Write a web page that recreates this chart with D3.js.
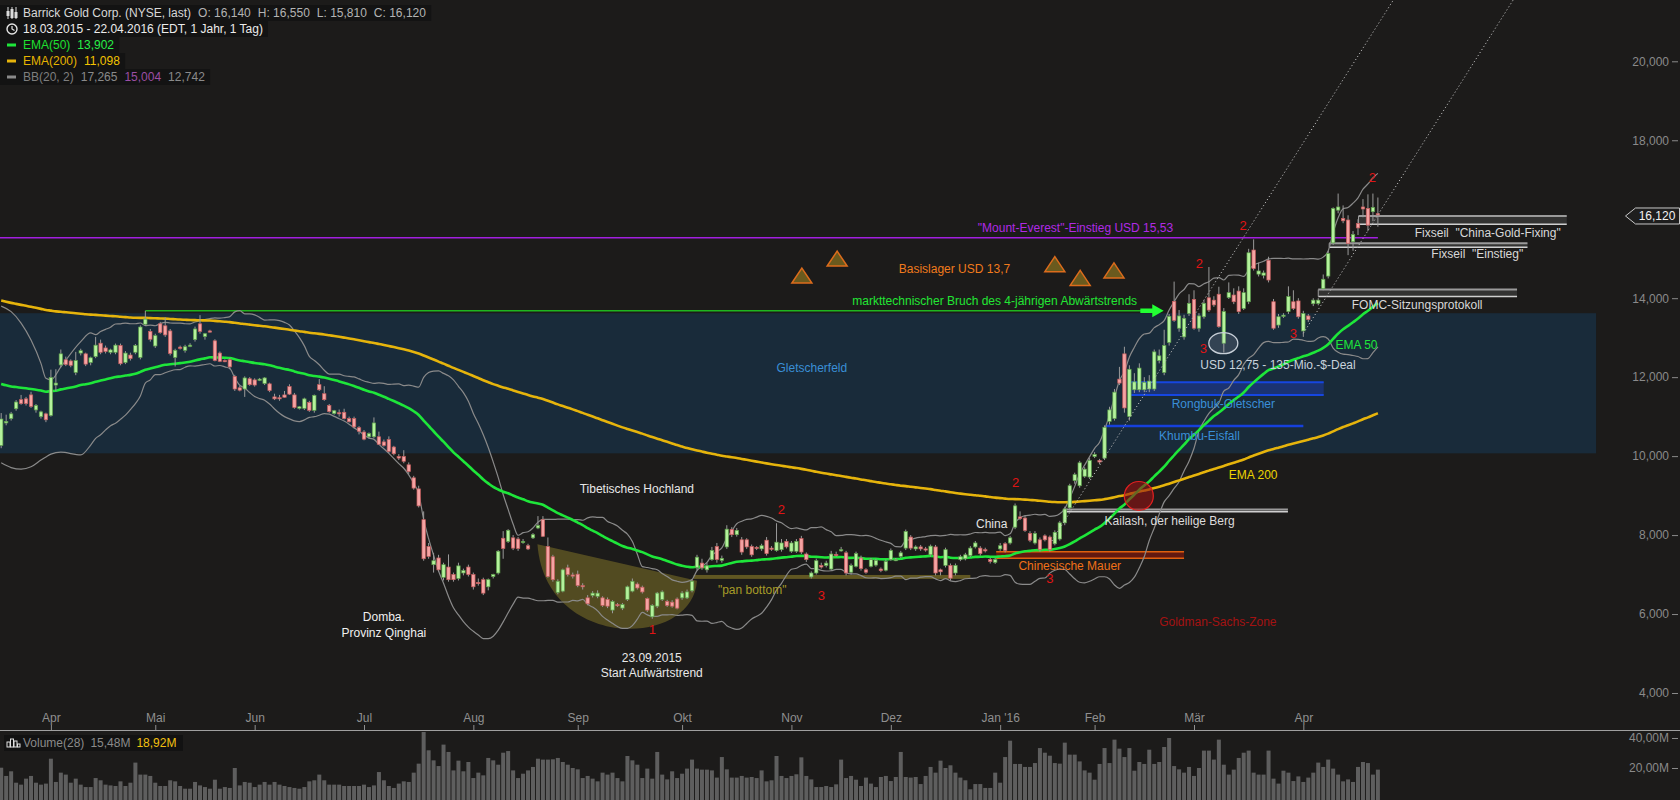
<!DOCTYPE html>
<html><head><meta charset="utf-8">
<script src="https://cdn.jsdelivr.net/npm/d3@7"></script>
<style>
html,body{margin:0;padding:0;background:#1c1b1a;overflow:hidden;}
svg{display:block;font-family:"Liberation Sans",Arial,sans-serif;}
</style></head><body>
<svg id="chart" width="1680" height="800"></svg>
<script>
// ---------------- DATA ----------------
const firstDay = "2015-03-18", lastDay = "2016-04-22";
const holidays = ["2015-04-03","2015-05-25","2015-07-03","2015-09-07","2015-11-26","2015-12-25","2016-01-01","2016-01-18","2016-02-15","2016-03-25"];
const monthLabels = ["Apr","Mai","Jun","Jul","Aug","Sep","Okt","Nov","Dez","Jan '16","Feb","Mär","Apr"];
// 16,000 is covered by the last-price label in the original
const priceTicks = [4,6,8,10,12,14,18,20];
const volumeTicks = [20,40];

const open = [
10.27,10.84,10.95,11.20,11.43,11.45,11.55,11.17,11.00,11.07,
11.03,11.80,12.31,12.44,12.41,12.12,12.61,12.59,12.37,12.52,
12.86,12.74,12.63,12.63,12.80,12.37,12.56,12.63,12.50,13.34,
13.16,12.79,13.35,13.30,13.17,12.50,12.76,12.68,12.80,12.95,
13.35,13.03,13.17,12.92,12.61,12.42,12.44,12.02,11.73,11.70,
11.96,11.93,11.93,11.84,11.83,11.50,11.48,11.55,11.76,11.55,
11.21,11.21,11.36,11.16,11.81,11.58,11.28,11.08,11.10,11.11,
10.95,10.95,10.72,10.61,10.49,10.49,10.49,10.36,10.42,10.23,
9.99,9.99,9.78,9.45,9.17,8.39,7.71,7.25,7.42,6.93,
7.19,7.00,6.90,7.04,7.19,7.00,6.80,6.87,6.69,6.95,
7.04,7.92,7.84,7.93,7.90,7.82,7.73,7.93,8.18,8.39,
7.71,7.45,6.55,6.58,7.17,6.99,7.01,6.72,6.41,6.47,
6.45,6.41,6.37,6.10,6.24,6.15,6.37,6.58,6.76,6.68,
6.39,5.93,6.20,6.37,6.32,6.30,6.38,6.41,6.41,6.59,
7.18,7.29,7.12,7.38,7.71,7.36,7.70,8.14,8.01,7.88,
7.88,7.71,7.69,7.65,7.87,7.67,7.61,7.63,7.84,7.59,
7.59,7.91,7.52,6.94,7.04,7.23,7.23,7.14,7.51,7.62,
7.55,7.06,7.21,7.42,7.12,7.21,7.24,7.14,7.11,7.38,
7.38,7.46,7.67,7.95,7.65,7.70,7.65,7.50,7.70,7.12,
7.23,7.23,7.04,7.38,7.40,7.48,7.70,7.67,7.63,7.38,
7.31,7.65,7.78,7.80,8.20,8.46,8.43,8.04,7.80,7.88,
7.98,7.95,7.78,7.90,8.31,8.69,9.38,9.25,9.49,9.47,
9.99,9.89,9.95,10.88,10.95,11.95,12.59,11.00,11.68,11.68,
11.68,11.70,11.70,12.42,12.12,12.88,13.92,13.24,13.02,13.61,
13.97,13.24,13.53,14.01,13.95,14.10,12.86,14.02,14.08,14.18,
13.74,13.91,15.22,14.61,14.58,14.96,13.91,13.32,13.55,13.66,
13.91,13.93,13.17,13.55,13.86,13.87,14.24,14.56,15.40,16.23,
16.02,15.98,15.43,15.89,16.31,16.27,16.19,16.14];

const high = [
11.09,11.05,11.12,11.42,11.55,11.50,11.63,11.32,11.15,11.10,
12.19,12.20,12.70,12.52,12.45,12.64,12.72,12.62,12.52,13.02,
12.95,12.80,12.72,12.85,12.85,12.66,12.62,12.84,13.31,13.68,
13.22,13.10,13.40,13.51,13.22,12.72,12.80,12.82,12.86,13.28,
13.57,13.12,13.20,12.96,12.65,12.45,12.48,12.06,11.78,12.02,
12.00,11.97,11.98,12.00,11.86,11.58,11.55,11.65,11.82,11.60,
11.27,11.48,11.40,11.56,11.95,11.77,11.32,11.17,11.18,11.20,
11.00,11.00,10.76,10.66,10.60,10.98,10.62,10.42,10.50,10.26,
10.05,10.15,9.84,9.50,9.25,8.60,7.80,7.55,7.50,7.30,
7.51,7.05,7.30,7.15,7.25,7.05,6.90,6.92,6.90,7.02,
7.62,8.10,8.15,8.00,7.95,7.90,7.78,8.05,8.48,8.48,
7.94,7.50,6.88,7.15,7.25,7.05,7.10,6.78,6.48,6.58,
6.60,6.45,6.42,6.35,6.28,6.28,6.72,6.90,6.80,6.72,
6.42,6.25,6.56,6.60,6.36,6.35,6.42,6.58,6.62,6.88,
7.50,7.40,7.30,7.70,7.80,7.48,8.25,8.20,8.18,7.95,
7.92,7.76,7.72,7.78,7.95,7.72,8.30,7.90,7.90,7.85,
7.90,7.98,7.56,7.08,7.40,7.30,7.35,7.60,7.58,7.70,
7.60,7.28,7.58,7.48,7.16,7.42,7.40,7.18,7.38,7.66,
7.42,7.60,8.14,8.00,7.74,7.75,7.70,7.76,7.75,7.15,
7.68,7.28,7.28,7.50,7.55,7.72,7.85,7.72,7.68,7.42,
7.42,7.80,7.82,7.98,8.80,8.60,8.48,8.10,8.10,7.94,
8.02,7.99,8.12,8.36,8.72,9.30,9.58,9.88,9.72,9.95,
10.10,9.93,10.78,11.25,11.70,12.26,12.77,12.30,12.10,12.35,
12.00,12.05,12.70,12.70,13.20,13.60,14.42,13.70,13.58,14.10,
14.20,13.62,13.95,14.79,14.05,14.29,13.75,14.40,14.25,14.30,
14.25,15.25,15.49,14.90,14.70,15.05,13.98,13.60,13.62,14.30,
14.20,14.00,13.68,13.60,14.00,14.00,14.60,15.20,16.30,16.65,
16.35,16.10,15.70,16.00,16.51,16.63,16.65,16.55];

const low = [
10.20,10.78,10.90,11.15,11.30,11.28,11.22,11.10,10.95,10.86,
11.00,11.65,12.25,12.28,12.25,12.05,12.55,12.28,12.30,12.48,
12.58,12.60,12.58,12.58,12.30,12.33,12.42,12.58,12.45,13.30,
12.90,12.74,13.10,13.02,12.55,12.27,12.70,12.62,12.76,12.90,
13.10,12.95,13.13,12.40,12.38,12.38,12.20,11.65,11.64,11.50,
11.78,11.76,11.90,11.80,11.62,11.42,11.40,11.48,11.55,11.20,
11.18,11.17,11.12,11.10,11.65,11.40,11.10,11.05,11.00,10.93,
10.85,10.70,10.55,10.40,10.45,10.45,10.28,10.24,10.08,10.02,
9.90,9.82,9.55,9.15,8.70,7.35,7.40,7.05,7.08,6.85,
6.82,6.82,6.85,6.98,6.95,6.62,6.72,6.48,6.60,6.90,
7.00,7.40,7.80,7.62,7.60,7.78,7.62,7.90,8.15,7.95,
6.92,6.82,6.50,6.55,6.95,6.90,6.68,6.62,6.22,6.42,
6.40,6.18,6.15,6.02,6.18,6.10,6.33,6.55,6.62,6.52,
6.05,5.88,6.15,6.33,6.18,6.16,6.12,6.36,6.38,6.55,
7.10,7.12,7.05,7.35,7.30,7.30,7.65,7.95,7.96,7.50,
7.65,7.45,7.62,7.60,7.48,7.60,7.58,7.58,7.66,7.55,
7.55,7.52,7.32,6.90,7.00,7.15,7.18,7.10,7.45,7.58,
6.98,7.00,7.18,7.10,7.02,7.18,7.20,7.06,7.08,7.35,
7.34,7.42,7.62,7.62,7.60,7.60,7.58,7.45,6.98,6.98,
7.18,6.85,6.98,7.34,7.36,7.44,7.66,7.48,7.56,7.28,
7.27,7.60,7.56,7.76,8.15,8.38,8.08,7.82,7.76,7.58,
7.84,7.58,7.74,7.86,8.25,8.62,9.30,9.20,9.45,9.42,
9.95,9.80,9.90,10.80,10.90,11.80,11.10,10.90,11.60,11.62,
11.62,11.62,11.65,12.35,12.05,12.80,13.40,13.15,12.95,13.55,
13.20,13.15,13.48,13.65,13.78,13.25,12.62,13.98,13.85,13.60,
13.70,13.85,14.70,14.55,14.50,14.40,13.20,13.25,13.50,13.60,
13.70,13.48,13.02,13.40,13.80,13.82,14.20,14.50,15.35,16.15,
15.90,15.09,15.20,15.60,16.05,15.70,15.95,15.81];

const close = [
10.94,10.88,11.07,11.37,11.33,11.33,11.26,11.28,11.12,10.92,
11.99,11.85,12.59,12.32,12.30,12.42,12.67,12.33,12.49,12.81,
12.63,12.65,12.69,12.81,12.34,12.61,12.47,12.80,13.27,13.47,
12.96,13.05,13.13,13.07,12.60,12.68,12.74,12.77,12.81,13.22,
13.16,13.10,13.16,12.42,12.40,12.41,12.26,11.70,11.67,11.98,
11.81,11.80,11.95,11.98,11.66,11.45,11.45,11.49,11.57,11.23,
11.25,11.45,11.16,11.54,11.68,11.43,11.13,11.15,11.09,10.95,
10.87,10.74,10.63,10.43,10.57,10.84,10.30,10.27,10.12,10.06,
9.95,9.87,9.61,9.19,8.74,7.40,7.46,7.35,7.12,7.25,
6.87,6.87,7.22,7.10,7.00,6.69,6.79,6.53,6.87,7.00,
7.59,7.66,8.12,7.67,7.66,7.84,7.65,8.01,8.24,7.97,
6.95,6.87,6.83,7.12,7.00,6.97,6.72,6.70,6.26,6.53,
6.53,6.22,6.20,6.32,6.23,6.24,6.69,6.83,6.66,6.56,
6.10,6.22,6.53,6.56,6.22,6.20,6.15,6.53,6.56,6.83,
7.44,7.17,7.22,7.61,7.38,7.41,8.15,8.01,8.12,7.57,
7.70,7.50,7.68,7.73,7.53,7.66,7.82,7.80,7.70,7.80,
7.84,7.57,7.38,7.04,7.35,7.19,7.29,7.52,7.50,7.63,
7.04,7.23,7.53,7.15,7.06,7.38,7.36,7.10,7.33,7.61,
7.38,7.55,8.09,7.67,7.70,7.65,7.63,7.72,7.04,7.07,
7.63,6.91,7.23,7.45,7.50,7.67,7.80,7.53,7.60,7.33,
7.38,7.73,7.61,7.93,8.74,8.42,8.12,7.87,8.04,7.63,
7.88,7.63,8.07,8.31,8.66,9.25,9.53,9.83,9.67,9.89,
10.04,9.85,10.73,11.17,11.62,11.85,11.22,12.20,11.88,12.23,
11.87,11.90,12.64,12.54,12.80,13.54,13.44,13.55,13.49,13.87,
13.24,13.55,13.87,13.70,13.83,13.28,13.66,14.14,13.91,13.66,
14.14,15.15,14.75,14.69,14.64,14.46,13.24,13.53,13.57,14.04,
13.74,13.53,13.61,13.46,13.95,13.95,14.48,15.13,16.27,16.31,
15.96,15.39,15.61,15.78,16.26,15.85,16.30,16.12];

// volume in millions
const volume = [
20.2,14.7,17.8,10.2,8.9,12.9,14.7,10.2,8.9,9.6,
26.2,10.7,16.9,15.6,10.2,12.9,8.9,7.3,7.3,13.3,
11.8,8.9,8.4,8.0,11.1,8.0,10.2,23.6,15.6,15.6,
14.7,10.2,8.0,8.0,11.8,11.1,8.0,6.2,6.2,10.7,
8.4,7.3,6.2,12.2,6.2,7.3,6.7,20.0,8.4,10.7,
10.2,7.3,8.9,10.7,8.9,10.7,8.9,8.0,7.3,6.7,
6.2,7.3,11.1,11.8,15.6,11.8,8.9,8.9,8.9,8.0,
8.0,8.0,8.0,8.9,7.3,8.4,17.3,11.8,8.0,6.7,
9.6,11.1,10.7,16.9,22.9,44.0,31.8,25.1,21.3,35.6,
30.7,18.4,24.9,17.8,24.0,13.3,16.9,15.1,26.7,25.1,
22.2,30.2,31.3,18.4,13.3,16.2,18.4,20.7,26.2,25.6,
25.6,25.8,26.7,24.0,22.2,20.0,19.1,13.3,14.7,12.9,
11.1,16.9,15.6,16.9,13.3,11.1,28.0,25.1,22.2,13.3,
19.6,12.9,30.7,15.6,12.4,17.8,13.3,16.2,19.6,25.6,
19.6,18.9,18.9,18.4,13.6,27.3,19.1,13.6,13.6,14.7,
13.6,14.0,13.3,18.4,11.1,11.8,28.0,14.7,13.3,14.7,
15.8,27.1,14.7,12.4,7.3,7.3,8.0,7.3,9.1,
25.6,13.3,14.7,12.2,8.0,13.6,9.6,7.3,14.0,14.7,
11.3,14.0,30.7,14.0,13.6,14.0,9.3,14.7,20.7,16.9,
24.9,20.0,21.8,16.9,13.6,11.8,5.8,9.3,9.3,6.7,
6.7,16.9,10.2,27.3,38.2,22.7,22.7,20.7,20.7,23.3,
33.3,30.2,28.2,23.3,22.9,36.9,28.9,28.9,24.4,18.4,
16.9,12.2,22.7,33.3,23.3,38.9,32.9,27.3,33.3,18.2,
24.0,22.7,32.2,22.7,24.0,34.0,40.0,21.3,19.1,16.9,
20.7,14.7,20.0,31.6,31.6,25.6,38.9,22.2,15.6,18.9,
26.7,30.2,31.6,16.9,15.6,15.6,31.6,12.9,9.6,18.2,
16.9,11.3,14.4,10.7,13.6,16.9,23.6,20.7,25.6,19.6,
15.6,11.1,12.4,10.7,20.7,24.0,23.3,15.6,18.92];

// indicator settings / values
const ema50Start = 11.83, ema200Start = 13.94;
const bbStartIdx   = [0, 2, 4, 6, 8, 9, 10, 12, 16, 18];
const bbUpperStart = [13.80,13.66,13.37,12.94,12.35,11.97,11.93,12.26,12.90,13.12];
const bbLowerStart = [9.83,9.71,9.67,9.73,9.90,9.98,10.05,10.10,10.03,10.28];
const legendEma = [13.902, 11.098];
const legendBB = [17.265, 15.004, 12.742];
const legendVolume = [15.48, 18.92];

// ---------------- SETUP ----------------
const svg = d3.select("#chart");
const W = 1680, H = 800;
const loc = d3.formatLocale({decimal: ",", thousands: ".", grouping: [3], currency: ["", ""]});
const fPrice = loc.format(".3f");
const fVol = v => loc.format(".2f")(v) + "M";

const pf = d3.timeParse("%Y-%m-%d"), ff = d3.timeFormat("%Y-%m-%d");
const days = d3.timeDay.range(pf(firstDay), d3.timeDay.offset(pf(lastDay), 1))
  .filter(d => d.getDay() !== 0 && d.getDay() !== 6 && !holidays.includes(ff(d)));
const N = close.length;

const x = d3.scaleLinear().domain([0, 277]).range([1.2, 1.2 + 277 * 4.97]);
const y = d3.scaleLinear().domain([4, 20]).range([693.0, 61.3]);
const yv = d3.scaleLinear().domain([0, 40]).range([798, 738]);

svg.append("rect").attr("width", W).attr("height", H).attr("fill", "#1c1b1a");

// ---------- background zones ----------
const zones = svg.append("g");
// Gletscherfeld
zones.append("rect").attr("x", x(-0.3)).attr("width", x(320.9) - x(-0.3))
  .attr("y", y(13.62)).attr("height", y(10.07) - y(13.62)).attr("fill", "#192b3a");

// pan bottom bowl
const bowl = [[107.9, 7.77], [140.0, 6.84], [139.0, 5.09], [109.4, 5.09]];
zones.append("path")
  .attr("d", `M${x(bowl[0][0])},${y(bowl[0][1])} L${x(bowl[1][0])},${y(bowl[1][1])} C${x(bowl[2][0])},${y(bowl[2][1])} ${x(bowl[3][0])},${y(bowl[3][1])} ${x(bowl[0][0])},${y(bowl[0][1])} Z`)
  .attr("fill", "rgba(128,115,40,0.55)");
// pan bottom band
zones.append("rect").attr("x", x(139.3)).attr("width", x(195.0) - x(139.3))
  .attr("y", y(6.99)).attr("height", y(6.89) - y(6.99)).attr("fill", "rgba(120,108,38,0.75)");

// Chinesische Mauer
zones.append("rect").attr("x", x(200.2)).attr("width", x(238.0) - x(200.2))
  .attr("y", y(7.58)).attr("height", y(7.41) - y(7.58)).attr("fill", "rgba(110,25,15,0.85)");
[7.58, 7.41].forEach(v => zones.append("line").attr("x1", x(200.2)).attr("x2", x(238.0))
  .attr("y1", y(v)).attr("y2", y(v)).attr("stroke", "#e0600f").attr("stroke-width", 1.5));

// Rongbuk-Gletscher
zones.append("rect").attr("x", x(227.0)).attr("width", x(266.1) - x(227.0))
  .attr("y", y(11.87)).attr("height", y(11.55) - y(11.87)).attr("fill", "rgba(30,60,170,0.5)");
[11.87, 11.55].forEach(v => zones.append("line").attr("x1", x(227.0)).attr("x2", x(266.1))
  .attr("y1", y(v)).attr("y2", y(v)).attr("stroke", "#1646e0").attr("stroke-width", 2));
// Khumbu-Eisfall
zones.append("line").attr("x1", x(222.2)).attr("x2", x(262.0)).attr("y1", y(10.76)).attr("y2", y(10.76))
  .attr("stroke", "#1640dc").attr("stroke-width", 2.5);

// double "rope" lines
const ropes = [
  {i0: 213.7, i1: 258.9, vTop: 8.65, vBot: 8.59},   // Kailash
  {i0: 265.0, i1: 305.0, vTop: 14.22, vBot: 14.04}, // FOMC
  {i0: 267.2, i1: 307.1, vTop: 15.39, vBot: 15.29}, // Fixseil Einstieg
  {i0: 273.1, i1: 315.0, vTop: 16.08, vBot: 15.87}  // Fixseil China
];
ropes.forEach(r => {
  zones.append("rect").attr("x", x(r.i0)).attr("width", x(r.i1) - x(r.i0))
    .attr("y", y(r.vTop)).attr("height", y(r.vBot) - y(r.vTop)).attr("fill", "rgba(55,55,55,0.85)");
  zones.append("line").attr("x1", x(r.i0)).attr("x2", x(r.i1)).attr("y1", y(r.vTop)).attr("y2", y(r.vTop))
    .attr("stroke", "#9a9a9a").attr("stroke-width", 2);
  zones.append("line").attr("x1", x(r.i0)).attr("x2", x(r.i1)).attr("y1", y(r.vBot)).attr("y2", y(r.vBot))
    .attr("stroke", "#cfcfcf").attr("stroke-width", 1.5);
  zones.append("line").attr("x1", x(r.i0)).attr("x2", x(r.i0)).attr("y1", y(r.vTop)).attr("y2", y(r.vBot))
    .attr("stroke", "#9a9a9a").attr("stroke-width", 1);
});

// purple Everest line
zones.append("line").attr("x1", x(-0.3)).attr("x2", x(277)).attr("y1", y(15.53)).attr("y2", y(15.53))
  .attr("stroke", "#a21fe0").attr("stroke-width", 1.5);
// green breakout line + arrow
zones.append("line").attr("x1", x(29)).attr("x2", x(229.5)).attr("y1", y(13.68)).attr("y2", y(13.68))
  .attr("stroke", "#1fb51f").attr("stroke-width", 1.5);
const ay = y(13.68);
zones.append("path")
  .attr("d", `M${x(229.2)},${ay - 2.2} L${x(231.6)},${ay - 2.2} L${x(231.6)},${ay - 6.5} L${x(233.9)},${ay} L${x(231.6)},${ay + 6.5} L${x(231.6)},${ay + 2.2} L${x(229.2)},${ay + 2.2} Z`)
  .attr("fill", "#22ff33");

// ---------- indicators ----------
function ema(vals, period, start) {
  const k = 2 / (period + 1), out = [start];
  for (let i = 1; i < vals.length; i++) out.push(out[i - 1] + k * (vals[i] - out[i - 1]));
  return out;
}
const ema50 = ema(close, 50, ema50Start);
const ema200 = ema(close, 200, ema200Start);
const bbUp = bbStartIdx.map((ix, j) => [ix, bbUpperStart[j]]);
const bbLo = bbStartIdx.map((ix, j) => [ix, bbLowerStart[j]]);
for (let i = 19; i < N; i++) {
  const w = close.slice(i - 19, i + 1), m = d3.mean(w);
  const sd = Math.sqrt(d3.mean(w, v => (v - m) * (v - m)));
  bbUp.push([i, m + 2 * sd]); bbLo.push([i, m - 2 * sd]);
}
const lineXY = d3.line().x(d => x(d[0])).y(d => y(d[1])).curve(d3.curveMonotoneX);
const ind = svg.append("g").attr("fill", "none");
ind.append("path").attr("d", lineXY(bbUp)).attr("stroke", "#8a8a8a").attr("stroke-width", 1.2);
ind.append("path").attr("d", lineXY(bbLo)).attr("stroke", "#8a8a8a").attr("stroke-width", 1.2);
ind.append("path").attr("d", lineXY(ema200.map((v, i) => [i, v]))).attr("stroke", "#e6b40c").attr("stroke-width", 2.6);
ind.append("path").attr("d", lineXY(ema50.map((v, i) => [i, v]))).attr("stroke", "#1ee63a").attr("stroke-width", 2.6);

// ---------- candles ----------
const cg = svg.append("g");
d3.range(N).forEach(i => {
  const o = open[i], c = close[i], hi = Math.max(high[i], o, c), lo = Math.min(low[i], o, c);
  const up = c >= o;
  cg.append("line").attr("x1", x(i)).attr("x2", x(i)).attr("y1", y(hi)).attr("y2", y(lo))
    .attr("stroke", "#9a9a9a").attr("stroke-width", 1);
  const top = y(Math.max(o, c)), h = Math.max(1.2, Math.abs(y(o) - y(c)));
  cg.append("rect").attr("x", x(i) - 1.7).attr("width", 3.4).attr("y", top).attr("height", h)
    .attr("fill", up ? "#b4f29c" : "#f5a3a3").attr("stroke", up ? "#5c9e4a" : "#c45c5c").attr("stroke-width", 0.7);
});

// ---------- overlays ----------
const ov = svg.append("g");
// dotted channel
[[[211.4, 7.85], [280.1, 21.55]], [[262.0, 13.11], [304.2, 21.55]]].forEach(seg => {
  ov.append("line").attr("x1", x(seg[0][0])).attr("y1", y(seg[0][1])).attr("x2", x(seg[1][0])).attr("y2", y(seg[1][1]))
    .attr("stroke", "#b8b8b8").attr("stroke-width", 1).attr("stroke-dasharray", "1.2,2.4");
});
// red circle Kailash
ov.append("circle").attr("cx", x(228.9)).attr("cy", y(8.99)).attr("r", 14.5)
  .attr("fill", "rgba(150,20,20,0.6)").attr("stroke", "#e02020").attr("stroke-width", 1.2);
// ellipse around deal low
ov.append("ellipse").attr("cx", x(245.9)).attr("cy", y(12.86)).attr("rx", 14.5).attr("ry", 10.5)
  .attr("fill", "rgba(200,210,225,0.15)").attr("stroke", "#c8d0d8").attr("stroke-width", 1.3);
// triangles
const tris = [[161.1, 14.56], [168.2, 14.99], [212.0, 14.85], [217.1, 14.50], [223.9, 14.69]];
tris.forEach(t => {
  const cx = x(t[0]), cy = y(t[1]);
  ov.append("path").attr("d", `M${cx},${cy - 8} L${cx + 10},${cy + 7} L${cx - 10},${cy + 7} Z`)
    .attr("fill", "#6a5a1e").attr("stroke", "#dc6c1c").attr("stroke-width", 1.5);
});

// ---------- annotation texts ----------
const notes = [
  {t: '"Mount-Everest"-Einstieg USD 15,53', i: 235.8, v: 15.78, c: "#b02ae6", a: "end"},
  {t: "Basislager USD 13,7", i: 191.8, v: 14.73, c: "#f07a1c"},
  {t: "markttechnischer Bruch des 4-jährigen Abwärtstrends", i: 199.9, v: 13.94, c: "#22e634"},
  {t: "Gletscherfeld", i: 163.1, v: 12.24, c: "#3a8fd6"},
  {t: "Tibetisches Hochland", i: 127.9, v: 9.17, c: "#e8e8e8"},
  {t: "China", i: 199.3, v: 8.27, c: "#e2e2e2"},
  {t: "Kailash, der heilige Berg", i: 235.1, v: 8.36, c: "#dcdcdc"},
  {t: "Chinesische Mauer", i: 215.0, v: 7.22, c: "#f07018"},
  {t: '"pan bottom"', i: 151.1, v: 6.61, c: "#a89c28"},
  {t: "23.09.2015", i: 130.9, v: 4.89, c: "#e8e8e8"},
  {t: "Start Aufwärtstrend", i: 130.9, v: 4.51, c: "#e8e8e8"},
  {t: "Domba.", i: 77.0, v: 5.93, c: "#f0f0f0"},
  {t: "Provinz Qinghai", i: 77.0, v: 5.53, c: "#f0f0f0"},
  {t: "Goldman-Sachs-Zone", i: 244.8, v: 5.79, c: "#a41212"},
  {t: "Rongbuk-Gletscher", i: 245.9, v: 11.32, c: "#3a8fd8"},
  {t: "Khumbu-Eisfall", i: 241.1, v: 10.51, c: "#3a8fd8"},
  {t: "EMA 200", i: 251.9, v: 9.51, c: "#ecd400"},
  {t: "EMA 50", i: 272.7, v: 12.81, c: "#1ee63c"},
  {t: "USD 12,75 - 135-Mio.-$-Deal", i: 256.9, v: 12.32, c: "#c8d2dc"},
  {t: "FOMC-Sitzungsprotokoll", i: 284.9, v: 13.84, c: "#d8d8d8"},
  {t: 'Fixseil  "Einstieg"', i: 297.0, v: 15.13, c: "#d8d8d8"},
  {t: 'Fixseil  "China-Gold-Fixing"', i: 299.1, v: 15.66, c: "#d8d8d8"}
];
const nt = svg.append("g").attr("font-size", 12).attr("dominant-baseline", "central");
notes.forEach(n => nt.append("text").attr("x", x(n.i)).attr("y", y(n.v))
  .attr("text-anchor", n.a || "middle").attr("fill", n.c).style("white-space", "pre").text(n.t));

const waves = [["2", 275.9, 17.06], ["2", 249.9, 15.83], ["2", 241.1, 14.88], ["3", 241.9, 12.73], ["3", 260.0, 13.11],
  ["2", 204.1, 9.33], ["2", 157.0, 8.65], ["3", 165.0, 6.48], ["1", 131.0, 5.60], ["3", 211.0, 6.90]];
const wt = svg.append("g").attr("font-size", 13).attr("dominant-baseline", "central").attr("text-anchor", "middle").attr("fill", "#e01414");
waves.forEach(w => wt.append("text").attr("x", x(w[1])).attr("y", y(w[2])).text(w[0]));

// ---------- axes ----------
const axY = svg.append("g").attr("transform", "translate(1678,0)")
  .call(d3.axisLeft(y).tickValues(priceTicks).tickSize(6).tickPadding(3).tickFormat(fPrice));
axY.select(".domain").remove();
axY.selectAll("text").attr("fill", "#8a8a8a").attr("font-size", 12).attr("font-family", "Liberation Sans, Arial, sans-serif");
axY.selectAll("line").attr("stroke", "#8a8a8a");

// current price label
const cy0 = y(close[N - 1]) + 1.5;
svg.append("path").attr("d", `M1625.5,${cy0} L1635.5,${cy0 - 8} L1679.5,${cy0 - 8} L1679.5,${cy0 + 8} L1635.5,${cy0 + 8} Z`)
  .attr("fill", "#1e1e1e").attr("stroke", "#c8c8c8").attr("stroke-width", 1);
svg.append("text").attr("x", 1657).attr("y", cy0).attr("dominant-baseline", "central").attr("text-anchor", "middle")
  .attr("font-size", 12).attr("fill", "#f2f2f2").text(fPrice(close[N - 1]));

// month axis
const monthIdx = [];
days.forEach((d, i) => { if (i > 0 && d.getMonth() !== days[i - 1].getMonth()) monthIdx.push(i); });
const axX = svg.append("g").attr("transform", "translate(0,730)")
  .call(d3.axisTop(x).tickValues(monthIdx).tickSize(5).tickPadding(3).tickFormat((d, k) => monthLabels[k]));
axX.select(".domain").remove();
axX.selectAll("text").attr("fill", "#8f8f8f").attr("font-size", 12).attr("font-family", "Liberation Sans, Arial, sans-serif");
axX.selectAll("line").attr("stroke", "#8f8f8f");
svg.append("line").attr("x1", 0).attr("x2", W).attr("y1", 730.5).attr("y2", 730.5).attr("stroke", "#a0a0a0").attr("stroke-width", 1);

// ---------- volume ----------
const vg = svg.append("g");
volume.forEach((v, i) => {
  vg.append("rect").attr("x", x(i) - 2).attr("width", 4).attr("y", yv(v)).attr("height", H - yv(v))
    .attr("fill", "#5e5e5e");
});
const axV = svg.append("g").attr("transform", "translate(1678,0)")
  .call(d3.axisLeft(yv).tickValues(volumeTicks).tickSize(6).tickPadding(3).tickFormat(fVol));
axV.select(".domain").remove();
axV.selectAll("text").attr("fill", "#8a8a8a").attr("font-size", 12).attr("font-family", "Liberation Sans, Arial, sans-serif");
axV.selectAll("line").attr("stroke", "#8a8a8a");

// volume legend
const vl = svg.append("g");
vl.append("rect").attr("x", 4).attr("y", 735).attr("width", 179).attr("height", 16).attr("fill", "#121212");
[[7, 742, 3, 5], [10.5, 739, 3, 8], [14, 741, 3, 6], [17.5, 744, 2.5, 3]].forEach(b =>
  vl.append("rect").attr("x", b[0]).attr("y", b[1]).attr("width", b[2]).attr("height", b[3]).attr("fill", "none").attr("stroke", "#e0e0e0").attr("stroke-width", 1));
const vt = vl.append("text").attr("x", 23).attr("y", 743).attr("dominant-baseline", "central").attr("font-size", 12);
vt.append("tspan").attr("fill", "#8a8a8a").text("Volume(28)");
vt.append("tspan").attr("dx", 6).attr("fill", "#8a8a8a").text(fVol(legendVolume[0]));
vt.append("tspan").attr("dx", 6).attr("fill", "#f2c010").text(fVol(legendVolume[1]));

// ---------- top legend ----------
const lg = svg.append("g").attr("font-size", 12);
const rows = [
  {cy: 13, parts: [["Barrick Gold Corp. (NYSE, last)", "#d8d8d8"], ["O: " + fPrice(open[N - 1]), "#b4b4b4"], ["H: " + fPrice(high[N - 1]), "#b4b4b4"], ["L: " + fPrice(low[N - 1]), "#b4b4b4"], ["C: " + fPrice(close[N - 1]), "#b4b4b4"]], icon: "candle"},
  {cy: 29, parts: [["18.03.2015 - 22.04.2016 (EDT, 1 Jahr, 1 Tag)", "#ececec"]], icon: "clock"},
  {cy: 45, parts: [["EMA(50)", "#1ee030"], [fPrice(legendEma[0]), "#28f048"]], icon: "#1ee63a"},
  {cy: 61, parts: [["EMA(200)", "#e6b400"], [fPrice(legendEma[1]), "#f2c400"]], icon: "#e6b40c"},
  {cy: 77, parts: [["BB(20, 2)", "#7e7e7e"], [fPrice(legendBB[0]), "#8a8a8a"], [fPrice(legendBB[1]), "#9c4ea4"], [fPrice(legendBB[2]), "#8a8a8a"]], icon: "#8a8a8a"}
];
rows.forEach(r => {
  const bg = lg.append("rect").attr("x", 0).attr("y", r.cy - 8).attr("height", 16).attr("fill", "#131313");
  const t = lg.append("text").attr("x", 23).attr("y", r.cy).attr("dominant-baseline", "central");
  r.parts.forEach((p, k) => t.append("tspan").attr("dx", k ? 7 : 0).attr("fill", p[1]).text(p[0]));
  const bb = t.node().getBBox();
  bg.attr("width", bb.x + bb.width + 5);
  if (r.icon === "candle") {
    [[8, 9, 5], [12, 7, 9], [16, 10, 6]].forEach(c => {
      lg.append("line").attr("x1", c[0]).attr("x2", c[0]).attr("y1", r.cy - 6).attr("y2", r.cy + 6).attr("stroke", "#dcdcdc");
      lg.append("rect").attr("x", c[0] - 1.5).attr("y", r.cy - 6 + c[1] - 5).attr("width", 3).attr("height", c[2]).attr("fill", "#dcdcdc");
    });
  } else if (r.icon === "clock") {
    lg.append("circle").attr("cx", 12).attr("cy", r.cy).attr("r", 5).attr("fill", "none").attr("stroke", "#e6e6e6").attr("stroke-width", 1.4);
    lg.append("path").attr("d", `M12,${r.cy - 3} L12,${r.cy} L14.5,${r.cy + 1.5}`).attr("fill", "none").attr("stroke", "#e6e6e6").attr("stroke-width", 1.2);
  } else {
    lg.append("rect").attr("x", 7).attr("y", r.cy - 1.5).attr("width", 9).attr("height", 3).attr("fill", r.icon);
  }
});
</script>
</body></html>
